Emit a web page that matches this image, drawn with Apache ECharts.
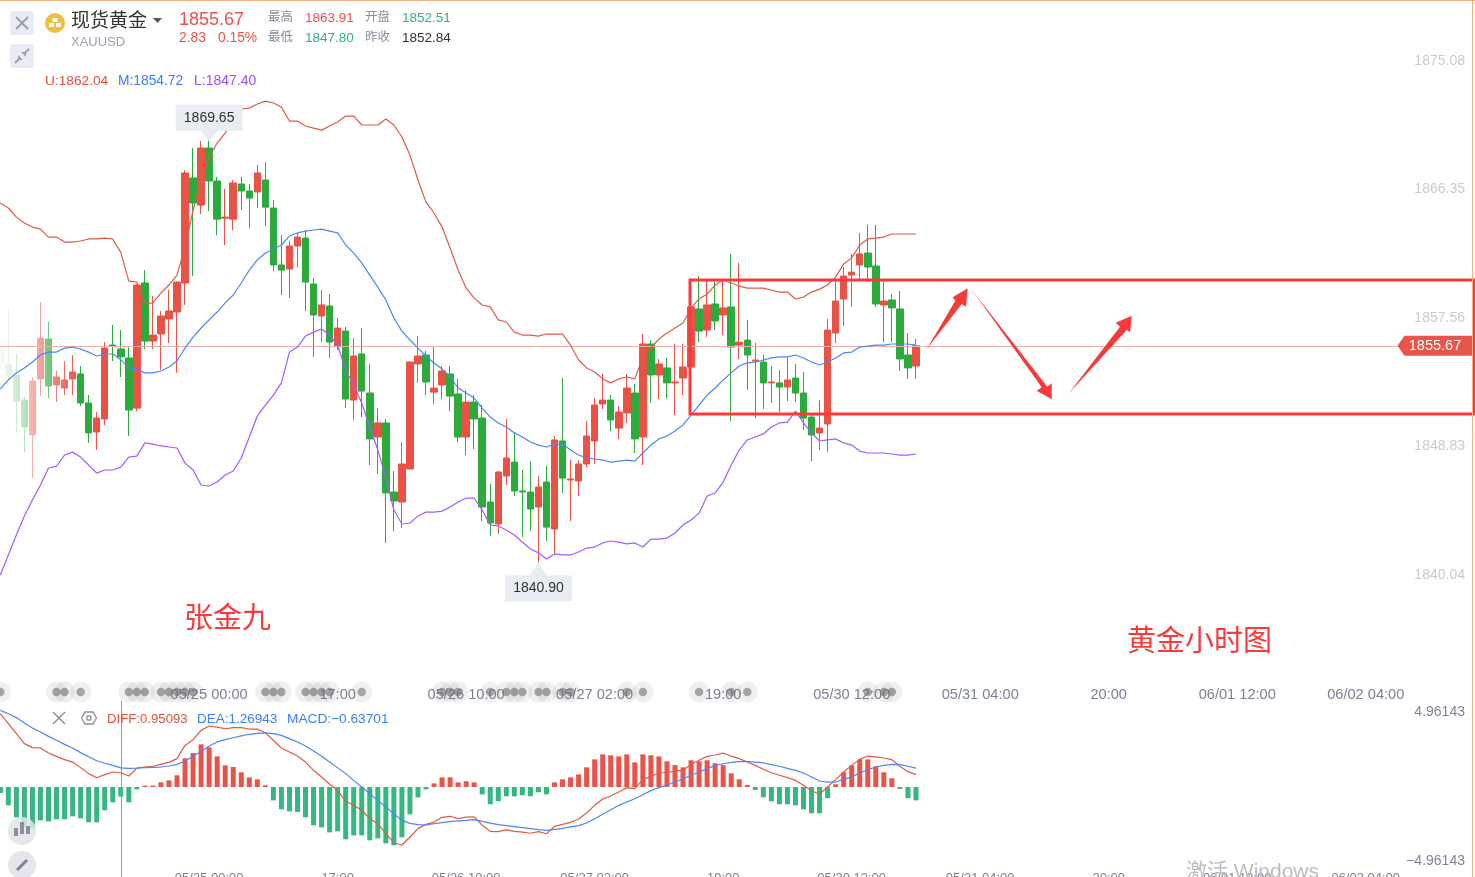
<!DOCTYPE html>
<html><head><meta charset="utf-8">
<style>html,body{margin:0;padding:0;background:#fff;overflow:hidden}#c{width:1475px;height:877px}</style>
<script src="https://cdn.jsdelivr.net/npm/echarts@6/dist/echarts.min.js"></script></head>
<body><div id="c"></div>
<script>
const barCount = 184;
const xTickIndex = [26,42,58,74,90,106,122,138,154,170];
const xTickLabels = ['05/25 00:00','17:00','05/26 10:00','05/27 02:00','19:00','05/30 12:00','05/31 04:00','20:00','06/01 12:00','06/02 04:00'];
const priceTicks = [1875.08,1866.35,1857.56,1848.83,1840.04];
const macdTicks = [4.96143,-4.96143];
const opens = [1855.58,1854.43,1853.68,1851.97,1849.59,1853.41,1856.13,1853.00,1852.79,1853.41,
1853.75,1851.77,1849.79,1850.68,1855.72,1855.45,1854.84,1851.42,1859.95,1855.99,
1856.47,1857.50,1857.97,1859.95,1867.11,1865.26,1869.15,1866.90,1864.37,1864.30,
1866.70,1866.22,1866.15,1866.97,1865.06,1861.18,1860.90,1862.47,1863.01,1859.88,
1857.70,1858.38,1855.65,1856.67,1851.97,1855.11,1852.45,1849.45,1850.41,1845.70,
1845.02,1847.27,1854.43,1855.04,1852.51,1853.00,1853.75,1852.38,1849.45,1851.83,
1850.74,1845.02,1843.52,1846.79,1847.74,1845.77,1845.70,1844.68,1846.38,1843.18,
1849.18,1846.52,1846.45,1847.61,1849.18,1851.70,1851.97,1850.06,1851.09,1852.45,
1849.45,1855.79,1853.68,1854.16,1853.14,1853.47,1854.22,1858.18,1856.74,1858.52,
1857.77,1858.32,1855.72,1856.06,1854.63,1854.56,1853.14,1853.14,1852.86,1853.47,
1852.45,1850.81,1849.73,1850.34,1856.54,1858.86,1860.49,1861.18,1861.99,1861.11,
1858.45,1858.79,1858.18,1855.04,1854.29];
const closes = [1854.43,1853.68,1851.90,1850.13,1853.27,1856.19,1852.93,1853.54,1853.34,1853.88,
1851.77,1849.73,1850.74,1855.51,1855.65,1854.91,1851.29,1859.81,1855.99,1856.40,
1857.70,1858.04,1860.01,1867.45,1865.40,1869.15,1866.90,1864.30,1864.44,1866.77,
1866.22,1865.74,1867.45,1865.12,1861.18,1860.83,1862.47,1863.08,1860.01,1857.77,
1858.45,1855.92,1856.88,1852.04,1854.97,1852.58,1849.32,1850.41,1845.64,1845.09,
1847.61,1854.56,1854.97,1853.20,1852.79,1853.95,1852.24,1849.45,1851.83,1850.68,
1844.68,1843.59,1847.06,1848.02,1845.77,1845.70,1844.54,1846.04,1843.31,1849.25,
1846.65,1846.59,1847.61,1849.52,1851.63,1851.97,1850.61,1851.15,1852.79,1849.32,
1855.79,1853.68,1854.43,1853.14,1853.20,1854.22,1858.32,1856.67,1858.45,1857.36,
1858.25,1855.58,1855.92,1855.04,1854.70,1853.14,1853.20,1852.86,1853.34,1852.45,
1850.74,1849.59,1850.06,1856.74,1858.72,1860.42,1860.69,1861.93,1861.04,1858.52,
1858.72,1858.25,1854.77,1854.16,1855.67];
const lows = [1854.02,1853.34,1849.73,1848.42,1846.65,1852.24,1852.10,1851.83,1852.31,1852.31,
1851.56,1849.05,1848.56,1850.27,1854.63,1853.54,1849.52,1851.22,1855.45,1855.45,
1854.02,1855.86,1853.82,1858.45,1860.42,1864.65,1864.85,1863.21,1862.54,1863.56,
1864.92,1863.69,1865.06,1863.83,1860.76,1859.13,1858.92,1861.04,1858.04,1854.91,
1855.92,1854.84,1855.38,1851.42,1850.61,1850.81,1847.54,1846.93,1842.23,1843.04,
1843.24,1847.27,1853.14,1852.31,1851.70,1852.04,1851.22,1849.11,1848.22,1848.63,
1843.72,1842.70,1842.84,1846.18,1845.43,1842.63,1843.04,1840.90,1842.36,1841.41,
1845.63,1843.72,1845.43,1847.40,1847.61,1851.36,1849.86,1849.32,1850.41,1848.36,
1847.54,1851.77,1852.04,1852.10,1850.95,1852.31,1853.75,1855.92,1856.26,1856.74,
1856.40,1850.54,1854.77,1852.65,1850.74,1851.36,1851.77,1851.15,1851.90,1851.83,
1849.93,1847.81,1848.56,1848.42,1855.86,1857.02,1858.32,1860.22,1860.01,1858.32,
1855.92,1855.92,1853.95,1853.41,1853.41];
const highs = [1855.86,1858.11,1855.11,1852.17,1853.54,1858.65,1857.29,1853.95,1854.63,1855.04,
1854.29,1852.31,1851.15,1855.92,1857.09,1856.74,1855.58,1859.88,1860.83,1859.06,
1858.04,1859.47,1860.08,1867.65,1869.15,1869.63,1869.65,1867.17,1866.36,1866.97,
1867.17,1866.70,1867.99,1868.19,1865.60,1863.21,1862.81,1863.36,1863.56,1860.28,
1859.47,1859.20,1857.56,1856.95,1856.19,1856.88,1854.43,1851.42,1850.68,1847.13,
1849.11,1854.63,1856.33,1855.31,1855.58,1854.29,1854.29,1853.41,1852.65,1852.31,
1851.63,1846.25,1847.13,1850.68,1849.73,1847.20,1847.81,1846.79,1847.47,1849.52,
1853.47,1847.88,1847.88,1850.54,1852.10,1853.75,1852.31,1851.56,1853.75,1853.07,
1856.47,1856.06,1854.77,1854.84,1855.79,1855.79,1858.59,1860.42,1860.15,1860.15,
1860.15,1861.93,1861.32,1857.43,1855.86,1855.04,1854.29,1854.02,1854.91,1854.43,
1853.88,1850.95,1851.97,1857.50,1860.15,1861.04,1861.93,1863.36,1863.91,1863.90,
1860.15,1859.20,1859.40,1856.54,1856.13];
const bollUpper = [1865.40,1865.06,1864.44,1864.04,1863.76,1863.62,1863.08,1863.08,1862.74,1862.74,
1862.81,1862.95,1862.95,1863.01,1862.95,1862.04,1860.08,1860.01,1858.52,1858.59,
1859.27,1859.81,1860.49,1862.40,1864.92,1866.97,1868.54,1869.49,1870.17,1871.19,
1871.81,1871.87,1872.15,1872.35,1872.22,1871.94,1870.99,1870.99,1870.65,1870.51,
1870.37,1870.65,1870.92,1871.33,1871.33,1870.72,1870.72,1870.72,1871.13,1870.72,
1869.90,1868.67,1866.97,1865.46,1864.72,1863.76,1862.33,1860.83,1859.60,1858.92,
1858.45,1858.32,1857.43,1857.29,1856.60,1856.40,1856.40,1856.33,1856.47,1856.47,
1856.47,1855.72,1854.70,1854.16,1853.88,1853.41,1853.14,1853.41,1853.54,1853.41,
1854.91,1855.51,1856.13,1856.54,1856.88,1857.22,1858.25,1858.86,1859.20,1859.81,
1860.15,1859.95,1859.74,1859.60,1859.60,1859.60,1859.47,1859.33,1859.33,1858.86,
1858.99,1859.33,1859.53,1859.81,1860.35,1861.25,1861.66,1862.54,1862.95,1863.01,
1863.08,1863.29,1863.29,1863.29,1863.29];
const bollMiddle = [1852.72,1853.34,1853.82,1854.16,1854.56,1855.04,1855.24,1855.24,1855.51,1855.58,
1855.45,1855.24,1854.97,1855.11,1855.11,1854.72,1854.16,1854.09,1853.82,1853.82,
1853.95,1854.22,1854.63,1855.51,1856.26,1856.88,1857.43,1857.97,1858.59,1859.13,
1859.95,1860.83,1861.52,1861.99,1862.27,1862.54,1863.15,1863.36,1863.49,1863.56,
1863.62,1863.49,1863.36,1862.54,1861.99,1861.32,1860.49,1859.67,1858.79,1857.56,
1856.67,1856.06,1855.51,1854.97,1854.50,1854.09,1853.54,1852.79,1852.45,1852.10,
1851.42,1850.81,1850.41,1850.13,1849.73,1849.45,1849.11,1848.90,1848.77,1848.97,
1848.97,1848.56,1848.22,1848.02,1847.95,1847.88,1847.74,1847.81,1847.88,1847.81,
1848.36,1848.90,1849.32,1849.52,1849.86,1850.27,1850.95,1851.63,1852.31,1852.79,
1853.34,1853.82,1854.29,1854.50,1854.56,1854.70,1854.84,1854.91,1854.91,1855.04,
1854.84,1854.56,1854.36,1854.56,1854.84,1855.18,1855.24,1855.58,1855.65,1855.72,
1855.72,1855.79,1855.79,1855.79,1855.72];
const bollLower = [1840.04,1841.41,1842.77,1844.06,1845.16,1846.18,1847.34,1847.47,1848.22,1848.42,
1848.08,1847.54,1846.99,1847.20,1847.20,1847.40,1848.08,1848.15,1849.05,1848.97,
1848.84,1848.77,1848.70,1847.67,1847.20,1846.18,1846.11,1846.38,1846.86,1847.13,
1848.02,1849.45,1850.88,1851.63,1852.31,1853.14,1855.24,1855.58,1856.33,1856.60,
1856.81,1856.40,1855.72,1854.02,1853.00,1851.77,1850.13,1848.56,1846.72,1844.47,
1843.52,1843.59,1844.06,1844.33,1844.33,1844.40,1844.68,1845.02,1845.29,1845.29,
1844.47,1843.45,1843.38,1843.11,1842.77,1842.29,1841.82,1841.55,1841.14,1841.48,
1841.41,1841.41,1841.61,1841.88,1841.95,1842.23,1842.36,1842.29,1842.16,1842.23,
1841.95,1842.49,1842.49,1842.56,1842.91,1843.45,1843.79,1844.26,1845.43,1845.63,
1846.38,1847.54,1848.56,1849.25,1849.45,1849.66,1850.13,1850.41,1850.47,1851.22,
1850.41,1849.73,1849.18,1849.25,1849.32,1849.05,1848.90,1848.49,1848.36,1848.36,
1848.36,1848.29,1848.22,1848.22,1848.29];
const macdHist = [-0.40,-1.22,-2.02,-2.66,-2.75,-2.22,-2.29,-2.15,-2.15,-1.95,
-2.09,-2.35,-2.35,-1.55,-1.02,-0.64,-1.02,-0.16,0.09,0.09,
0.31,0.44,0.78,1.91,2.26,2.84,2.64,2.04,1.44,1.33,
0.98,0.64,0.51,0.11,-0.89,-1.49,-1.62,-1.66,-2.02,-2.55,
-2.69,-3.02,-2.95,-3.48,-3.22,-3.22,-3.55,-3.42,-3.75,-3.88,
-3.35,-1.82,-0.69,-0.16,0.24,0.64,0.64,0.31,0.38,0.31,
-0.49,-1.15,-0.95,-0.62,-0.62,-0.55,-0.62,-0.35,-0.49,0.31,
0.51,0.64,0.84,1.31,1.84,2.17,2.11,2.04,2.17,1.64,
2.17,2.11,2.04,1.71,1.46,1.31,1.78,1.71,1.78,1.58,
1.46,0.91,0.51,0.13,-0.20,-0.69,-0.95,-1.15,-1.15,-1.22,
-1.49,-1.75,-1.75,-0.75,0.18,0.98,1.44,1.84,1.84,1.38,
0.98,0.58,-0.13,-0.75,-0.89];
const macdDiff = [4.88,4.22,3.55,2.89,2.62,2.60,2.26,2.04,1.82,1.66,
1.29,0.89,0.62,0.82,1.00,0.95,0.73,1.26,1.33,1.38,
1.51,1.64,1.89,2.77,3.15,3.77,4.06,3.99,3.88,3.95,
3.95,3.86,3.86,3.60,3.11,2.60,2.33,2.06,1.66,1.11,
0.67,0.18,-0.22,-0.95,-1.22,-1.55,-2.11,-2.44,-3.11,-3.71,
-3.86,-3.33,-2.77,-2.49,-2.33,-2.02,-1.95,-2.11,-2.00,-1.98,
-2.55,-2.95,-2.97,-2.86,-2.95,-3.00,-3.08,-2.97,-3.11,-2.62,
-2.49,-2.35,-2.13,-1.73,-1.22,-0.80,-0.60,-0.33,-0.04,-0.11,
0.49,0.71,0.95,0.95,1.07,1.11,1.51,1.78,2.04,2.13,
2.26,2.06,1.89,1.66,1.44,1.18,0.95,0.78,0.62,0.44,
0.11,-0.27,-0.47,0.00,0.49,1.00,1.44,1.84,2.06,2.00,
1.93,1.82,1.38,1.02,0.82];
const macdDea = [5.10,4.88,4.62,4.26,3.93,3.66,3.37,3.11,2.84,2.60,
2.29,2.02,1.75,1.58,1.44,1.27,1.24,1.26,1.29,1.31,
1.33,1.40,1.51,1.73,2.04,2.37,2.73,3.00,3.15,3.28,
3.40,3.51,3.57,3.60,3.55,3.44,3.22,3.00,2.73,2.40,
2.04,1.66,1.29,0.89,0.44,0.00,-0.44,-0.89,-1.33,-1.78,
-2.22,-2.42,-2.51,-2.53,-2.44,-2.37,-2.31,-2.26,-2.22,-2.17,
-2.29,-2.40,-2.51,-2.57,-2.64,-2.71,-2.77,-2.84,-2.89,-2.82,
-2.75,-2.66,-2.57,-2.40,-2.11,-1.82,-1.51,-1.22,-1.00,-0.78,
-0.51,-0.24,-0.04,0.13,0.33,0.55,0.78,1.00,1.22,1.44,
1.55,1.64,1.69,1.71,1.66,1.60,1.49,1.38,1.24,1.11,
0.93,0.67,0.40,0.33,0.33,0.51,0.67,0.93,1.15,1.33,
1.44,1.51,1.49,1.38,1.26];
const eventIndex = [0,7,8,10,16,17,18,20,21,22,23,24,33,34,35,38,39,40,41,45,55,56,57,61,63,64,65,67,68,70,71,78,80,87,91,93,108,110,111];
const eventLevel = 1832.06;
const lastPrice = 1855.67;
const highMark = {index:26, value:1869.65};
const lowMark = {index:67, value:1840.90};
const crossIndex = 15;
const lastTagIndex = 178;

const FONT = "'Liberation Sans','Noto Sans CJK SC',sans-serif";
const UP='#EA5245', DOWN='#2AAB3C', HUP='#E9534A', HDOWN='#35B77F';
const categories = Array.from({length:barCount},(_,i)=>{const k=xTickIndex.indexOf(i);return k>=0?xTickLabels[k]:''});
const candles = opens.map((o,i)=>[o,closes[i],lows[i],highs[i]]);
const bubble='path://M0 0H67V26H42L33.5 36L25 26H0Z';
const bubbleDown='path://M33.5 0L42 13H67V39H0V13H25Z';

function txt(x,y,text,color,size,extra){return Object.assign({type:'text',x,y:y+1,z:20,silent:true,style:{text,fill:color,font:size+'px '+FONT,textVerticalAlign:'middle',textBaseline:'middle'}},extra||{})}
function line(x1,y1,x2,y2,stroke,w){return {type:'line',z:20,silent:true,shape:{x1,y1,x2,y2},style:{stroke,lineWidth:w||1.5}}}
function poly(points,fill,z){return {type:'polygon',z:z||15,silent:true,shape:{points},style:{fill}}}
const ICON='#9aa0ad', ARROW='#F93A3A';
const graphics=[
 {type:'rect',z:3,silent:true,shape:{x:0,y:0,width:80,height:690},style:{fill:new echarts.graphic.LinearGradient(0,0,1,0,[{offset:0,color:'rgba(255,255,255,0.97)'},{offset:0.3,color:'rgba(255,255,255,0.68)'},{offset:0.6,color:'rgba(255,255,255,0.35)'},{offset:1,color:'rgba(255,255,255,0)'}])}},
 {type:'rect',z:14,silent:true,shape:{x:690,y:280,width:784,height:134},style:{fill:'none',stroke:'#F93A3A',lineWidth:3}},
 poly([[926.7,349.3],[955.3,300.7],[952.7,297.3],[967.7,288.3],[966,306.7],[961.7,304]],ARROW),
 poly([[972,290],[1047.3,386.7],[1051.7,383.3],[1051.7,399.3],[1036.7,390.7],[1041.7,387.3]],ARROW),
 poly([[1068.3,394],[1120,326.7],[1115.7,322.7],[1131.7,315.7],[1130,332.3],[1126.7,330]],ARROW),
 {type:'line',z:20,silent:true,shape:{x1:0,y1:0.5,x2:1475,y2:0.5},style:{stroke:'#F5B183',lineWidth:1}},
 {type:'line',z:20,silent:true,shape:{x1:1472.5,y1:0,x2:1472.5,y2:877},style:{stroke:'#F5B183',lineWidth:1}},
 {type:'rect',z:20,silent:true,shape:{x:10,y:11,width:24,height:24,r:2},style:{fill:'#E9ECF2'}},
 line(16,17,28,29,ICON,2), line(28,17,16,29,ICON,2),
 {type:'rect',z:20,silent:true,shape:{x:10,y:44,width:24,height:24,r:2},style:{fill:'#E9ECF2'}},
 line(15,63,20,58,ICON,2), line(24,54,29,49,ICON,2),
 poly([[18,55],[23,60],[18,60]],ICON,20), poly([[26,52],[26,57],[21,52]],ICON,20),
 {type:'circle',z:20,silent:true,shape:{cx:55,cy:23,r:10},style:{fill:'#F0BE3E'}},
 {type:'rect',z:21,silent:true,shape:{x:52.5,y:18,width:5,height:4},style:{fill:'#fff'}},
 {type:'rect',z:21,silent:true,shape:{x:49,y:23,width:5,height:4},style:{fill:'#fff'}},
 {type:'rect',z:21,silent:true,shape:{x:56,y:23,width:5,height:4},style:{fill:'#fff'}},
 txt(71,20.5,'现货黄金','#333',19),
 poly([[153,18],[162,18],[157.5,23]],'#555',20),
 txt(71,41,'XAUUSD','#9AA0B0',13),
 txt(179,19,'1855.67','#F0504A',18),
 txt(179,37,'2.83','#F0504A',13.8), txt(218,37,'0.15%','#F0504A',13.8),
 txt(268,17,'最高','#8A8FA0',12.5), txt(305,17,'1863.91','#F0504A',13.5),
 txt(365,17,'开盘','#8A8FA0',12.5), txt(402,17,'1852.51','#2DB37D',13.5),
 txt(268,37,'最低','#8A8FA0',12.5), txt(305,37,'1847.80','#2DB37D',13.5),
 txt(365,37,'昨收','#8A8FA0',12.5), txt(402,37,'1852.84','#333',13.5),
 txt(45,80,'U:1862.04','#E0503C',13.7), txt(118,80,'M:1854.72','#3D7DFF',13.8), txt(194,80,'L:1847.40','#9B4DFF',14),
 txt(184,619,'张金九','#F93A3A',29), txt(1127,642,'黄金小时图','#F93A3A',29),
 line(53,712,65,724,'#8a8f9c',1.5), line(65,712,53,724,'#8a8f9c',1.5),
 {type:'polygon',z:21,silent:true,shape:{points:[[85,712],[93,712],[96.5,718],[93,724],[85,724],[81.5,718]]},style:{fill:'none',stroke:'#8a8f9c',lineWidth:1.3}},
 {type:'circle',z:21,silent:true,shape:{cx:89,cy:718,r:2.2},style:{fill:'none',stroke:'#8a8f9c',lineWidth:1.3}},
 txt(107,718,'DIFF:0.95093','#E0503C',13.2), txt(197,718,'DEA:1.26943','#3D7DFF',13.5), txt(287,718,'MACD:−0.63701','#3D7DFF',13.7),
 {type:'circle',z:20,silent:true,shape:{cx:22,cy:831,r:14},style:{fill:'rgba(226,228,234,0.85)'}},
 {type:'rect',z:21,silent:true,shape:{x:14,y:828,width:4,height:8},style:{fill:'#8a8f9c'}},
 {type:'rect',z:21,silent:true,shape:{x:20,y:822,width:4,height:12},style:{fill:'#8a8f9c'}},
 {type:'rect',z:21,silent:true,shape:{x:26,y:826,width:4,height:8},style:{fill:'#8a8f9c'}},
 {type:'circle',z:20,silent:true,shape:{cx:22,cy:865,r:14},style:{fill:'#E4E6EC'}},
 line(17,870,27,860,'#7d828f',3),
 txt(1186,871,'激活 Windows','#BDBDBD',21)
];

const option={
 animation:false,
 backgroundColor:'#fff',
 textStyle:{fontFamily:FONT},
 grid:[{left:-3.72,width:1477.9,top:0,height:704,outerBoundsMode:'none',containLabel:false},{left:-3.72,width:1477.9,top:701,height:176,outerBoundsMode:'none',containLabel:false}],
 xAxis:[0,1].map(g=>({type:'category',gridIndex:g,data:categories,boundaryGap:true,
   axisLine:{show:false},axisTick:{show:false},splitLine:{show:false},
   axisLabel:{show:true,interval:(i)=>xTickIndex.indexOf(i)>=0,margin:g===0?-16:-5,fontSize:g===0?14.6:13,color:'#7B8096',fontFamily:FONT,hideOverlap:false}})),
 yAxis:[
  {type:'value',gridIndex:0,position:'right',min:1831.25,max:1879.24,scale:true,axisLine:{show:false},axisTick:{show:false},splitLine:{show:false},
   axisLabel:{inside:true,customValues:priceTicks,margin:9.2,fontSize:14,padding:[2,0,0,0],color:'#C8CBD3',fontFamily:FONT,formatter:v=>v.toFixed(2)}},
  {type:'value',gridIndex:1,position:'right',min:-5.992,max:5.726,axisLine:{show:false},axisTick:{show:false},splitLine:{show:false},
   axisLabel:{inside:true,customValues:macdTicks,margin:9.2,fontSize:14,padding:[2,0,0,0],color:'#7F8499',fontFamily:FONT,formatter:v=>v.toFixed(5).replace('-','−')}}
 ],
 graphic:{elements:graphics},
 series:[
  {type:'candlestick',name:'K',xAxisIndex:0,yAxisIndex:0,z:2,barWidth:7,data:candles,
   itemStyle:{color:UP,color0:DOWN,borderColor:UP,borderColor0:DOWN,borderWidth:1},
   markPoint:{silent:true,z:12,data:[
     {coord:[highMark.index,highMark.value],symbol:bubble,symbolSize:[67,36],symbolOffset:[0,-18],itemStyle:{color:'#E9ECF0'},
      label:{show:true,formatter:highMark.value.toFixed(2),color:'#333',fontSize:14,fontFamily:FONT,position:'inside',offset:[0,-5]}},
     {coord:[lowMark.index,lowMark.value],symbol:bubbleDown,symbolSize:[67,39],symbolOffset:[0,19.5],itemStyle:{color:'#E9ECF0'},
      label:{show:true,formatter:lowMark.value.toFixed(2),color:'#333',fontSize:14,fontFamily:FONT,position:'inside',offset:[0,6]}},
     {coord:[lastTagIndex,lastPrice],symbol:'path://M0 10L7 0H77V20H7Z',symbolSize:[77,20],symbolOffset:[6,0],itemStyle:{color:'#E8554A'},
      label:{show:true,formatter:lastPrice.toFixed(2),color:'#fff',fontSize:14.5,fontFamily:FONT,position:'inside',offset:[-1,0]}}
   ]},
   markLine:{silent:true,symbol:'none',animation:false,label:{show:false},lineStyle:{color:'#EFB0AA',width:1,type:'solid'},data:[{yAxis:lastPrice}]}},
  {type:'line',name:'U',xAxisIndex:0,yAxisIndex:0,z:5,data:bollUpper,showSymbol:false,symbol:'none',lineStyle:{color:'#E05A45',width:1.2}},
  {type:'line',name:'M',xAxisIndex:0,yAxisIndex:0,z:5,data:bollMiddle,showSymbol:false,symbol:'none',lineStyle:{color:'#4C86F5',width:1.2}},
  {type:'line',name:'L',xAxisIndex:0,yAxisIndex:0,z:5,data:bollLower,showSymbol:false,symbol:'none',lineStyle:{color:'#A45BFF',width:1.2}},
  {type:'scatter',name:'eventHalo',xAxisIndex:0,yAxisIndex:0,z:6,clip:false,symbolSize:21,silent:true,data:eventIndex.map(i=>[i,eventLevel]),itemStyle:{color:'rgba(120,120,120,0.14)'}},
  {type:'scatter',name:'eventDot',xAxisIndex:0,yAxisIndex:0,z:7,clip:false,symbolSize:8.5,silent:true,data:eventIndex.map(i=>[i,eventLevel]),itemStyle:{color:'rgba(110,110,110,0.72)'}},
  {type:'bar',name:'MACD',xAxisIndex:1,yAxisIndex:1,z:2,barWidth:5,data:macdHist,itemStyle:{color:p=>p.value>=0?HUP:HDOWN},
   markLine:{silent:true,symbol:'none',animation:false,label:{show:false},lineStyle:{color:'#999',width:1,type:'solid'},data:[{xAxis:crossIndex}]}},
  {type:'line',name:'DIFF',xAxisIndex:1,yAxisIndex:1,z:5,data:macdDiff,showSymbol:false,symbol:'none',lineStyle:{color:'#E05A45',width:1.2}},
  {type:'line',name:'DEA',xAxisIndex:1,yAxisIndex:1,z:5,data:macdDea,showSymbol:false,symbol:'none',lineStyle:{color:'#4C86F5',width:1.2}}
 ]
};
const chart=echarts.init(document.getElementById('c'),null,{renderer:'canvas',width:1475,height:877});
chart.setOption(option);
</script></body></html>
